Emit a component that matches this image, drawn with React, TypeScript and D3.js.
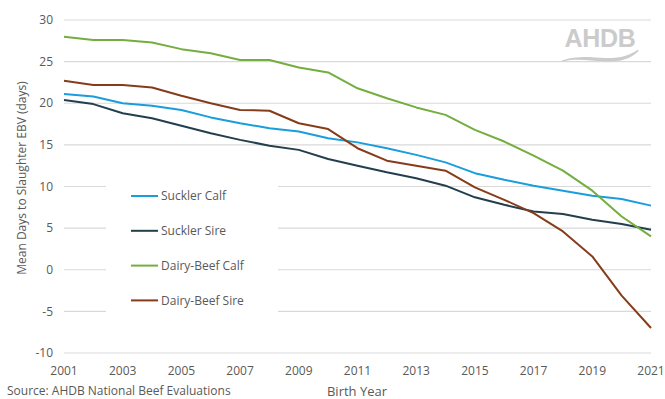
import React from "react";
import * as d3 from "d3";

// Birth years on the x axis
const years = [2001, 2002, 2003, 2004, 2005, 2006, 2007, 2008, 2009, 2010, 2011, 2012, 2013, 2014, 2015, 2016, 2017, 2018, 2019, 2020, 2021];
const xTickYears = [2001, 2003, 2005, 2007, 2009, 2011, 2013, 2015, 2017, 2019, 2021];
const yTicks = [-10, -5, 0, 5, 10, 15, 20, 25, 30];

// Mean days-to-slaughter EBV per group
const sucklerCalf = [21.1, 20.8, 20.0, 19.7, 19.2, 18.3, 17.6, 17.0, 16.6, 15.8, 15.3, 14.6, 13.8, 12.9, 11.6, 10.8, 10.1, 9.5, 8.9, 8.5, 7.7];
const sucklerSire = [20.4, 19.9, 18.8, 18.2, 17.3, 16.4, 15.6, 14.9, 14.4, 13.3, 12.5, 11.7, 11.0, 10.1, 8.7, 7.8, 7.0, 6.7, 6.0, 5.5, 4.8];
const dairyBeefCalf = [28.0, 27.6, 27.6, 27.3, 26.5, 26.0, 25.2, 25.2, 24.3, 23.7, 21.8, 20.6, 19.5, 18.6, 16.8, 15.4, 13.7, 11.9, 9.5, 6.4, 4.0];
const dairyBeefSire = [22.7, 22.2, 22.2, 21.9, 20.9, 20.0, 19.2, 19.1, 17.6, 16.9, 14.6, 13.1, 12.5, 11.9, 9.9, 8.4, 6.8, 4.6, 1.6, -3.1, -7.0];

const seriesNames = ["Suckler Calf", "Suckler Sire", "Dairy-Beef Calf", "Dairy-Beef Sire"];
const seriesValues = [sucklerCalf, sucklerSire, dairyBeefCalf, dairyBeefSire];
const seriesColors = ["#1a9ddc", "#223f4d", "#73ae3e", "#863c1b"];

const W = 665;
const H = 399;
const FONT = "'Open Sans', sans-serif";
const TEXT = "#595959";

export default function App() {
  const x = d3.scaleLinear().domain([2001, 2021]).range([64, 651]);
  const y = d3.scaleLinear().domain([-10, 30]).range([353, 20]);

  const line = d3
    .line<number>()
    .x((_, i) => x(years[i]))
    .y((v) => y(v));

  return (
    <div style={{ position: "fixed", left: 0, top: 0 }}>
      <svg width={W} height={H} style={{ display: "block", background: "#fff" }}>
        {/* gridlines */}
        {yTicks.map((t) => (
          <line key={t} x1={64} x2={651} y1={y(t)} y2={y(t)} stroke="#d9d9d9" strokeWidth={1.2} />
        ))}

        {/* watermark logo */}
        <g fill="#cbcbcb">
          <text x={600} y={47} textAnchor="middle" fontFamily="'Liberation Sans', Arial, sans-serif" fontWeight="bold" fontSize={25} letterSpacing={-0.3}>
            AHDB
          </text>
          <path d="M562,60.5 C578,55 592,57.5 605,58 C618,58.5 630,56 638,49.5 L638.5,51 C630,60 618,62 604,61.5 C590,61 578,58 562,61.5 Z" />
        </g>

        {/* y tick labels */}
        {yTicks.map((t) => (
          <text key={t} x={53} y={y(t)} dy="0.35em" textAnchor="end" fontFamily={FONT} fontSize={12} fill={TEXT}>
            {t}
          </text>
        ))}

        {/* x tick labels */}
        {xTickYears.map((t) => (
          <text key={t} x={x(t)} y={375} textAnchor="middle" fontFamily={FONT} fontSize={12} fill={TEXT}>
            {t}
          </text>
        ))}

        {/* series */}
        {seriesValues.map((vals, i) => (
          <path key={seriesNames[i]} d={line(vals) ?? ""} fill="none" stroke={seriesColors[i]} strokeWidth={2} strokeLinejoin="round" />
        ))}

        {/* legend */}
        <rect x={106} y={178} width={172} height={140} fill="#fff" />
        {seriesNames.map((name, i) => {
          const ly = 196 + i * 34.8;
          return (
            <g key={name}>
              <line x1={131} x2={158} y1={ly} y2={ly} stroke={seriesColors[i]} strokeWidth={2} />
              <text x={161} y={ly} dy="0.35em" fontFamily={FONT} fontSize={12} fill={TEXT}>
                {name}
              </text>
            </g>
          );
        })}

        {/* axis titles */}
        <text transform={`translate(26,178) rotate(-90)`} textAnchor="middle" fontFamily={FONT} fontSize={12} fill={TEXT}>
          Mean Days to Slaughter EBV (days)
        </text>
        <text x={357} y={396} textAnchor="middle" fontFamily={FONT} fontSize={13} fill={TEXT}>
          Birth Year
        </text>

        {/* source note */}
        <text x={7} y={395} fontFamily={FONT} fontSize={12} fill={TEXT}>
          Source: AHDB National Beef Evaluations
        </text>
      </svg>
    </div>
  );
}
